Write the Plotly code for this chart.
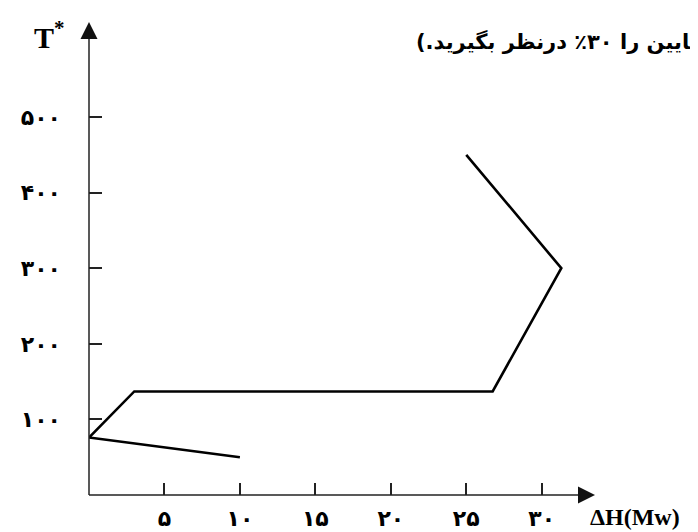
import plotly.graph_objects as go

# ---- data ----
dH_values = [10, 0, 3, 26.75, 31.3, 25]          # ΔH (Mw)
T_values = [50, 76, 137, 137, 300, 450]          # T*

x_tick_vals = [5, 10, 15, 20, 25, 30]
x_tick_text = ["۵", "۱۰", "۱۵", "۲۰", "۲۵", "۳۰"]
y_tick_vals = [100, 200, 300, 400, 500]
y_tick_text = ["۱۰۰", "۲۰۰", "۳۰۰", "۴۰۰", "۵۰۰"]

x_title = "ΔH(Mw)"
y_title = "T<sup>*</sup>"
top_note = "پایین را ۳۰٪ درنظر بگیرید.)\u200f"

# ---- layout geometry ----
W, H = 698, 532
L, R, T, B = 81, 113, 16, 45
X_MAX = 33.4
Y_MAX = 623

def px_x(p):
    return (p - L) / (W - L - R)

def px_y(p):
    return (H - B - p) / (H - T - B)

fig = go.Figure()
fig.add_trace(go.Scatter(
    x=dH_values, y=T_values, mode="lines",
    line=dict(color="black", width=2.6),
    hoverinfo="skip", showlegend=False,
))

axis_font = dict(family="DejaVu Sans", size=22, color="black")

fig.update_layout(
    width=W, height=H,
    margin=dict(l=L, r=R, t=T, b=B, autoexpand=False),
    paper_bgcolor="white", plot_bgcolor="white",
    xaxis=dict(range=[0, X_MAX], showgrid=False, zeroline=False, showline=False,
               tickvals=x_tick_vals, ticktext=["<b>" + t + "</b>" for t in x_tick_text],
               ticks="inside", ticklen=12, tickwidth=1.5, tickcolor="#222",
               tickfont=axis_font, ticklabelstandoff=8),
    yaxis=dict(range=[0, Y_MAX], showgrid=False, zeroline=False, showline=False,
               tickvals=y_tick_vals, ticktext=["<b>" + t + "</b>" for t in y_tick_text],
               ticks="inside", ticklen=13, tickwidth=1.5, tickcolor="#222",
               tickfont=axis_font, ticklabelstandoff=27),
)

# axis lines
axis_line = dict(color="#222", width=1.5)
fig.add_shape(type="line", xref="paper", yref="paper", x0=0, y0=0, x1=1, y1=0, line=axis_line)
fig.add_shape(type="line", xref="paper", yref="paper", x0=0, y0=0, x1=0, y1=1, line=axis_line)
# arrowheads (pixel-sized triangles anchored at axis ends)
fig.add_shape(type="path", xref="paper", yref="paper", xsizemode="pixel", ysizemode="pixel",
              xanchor=1, yanchor=0, path="M 2,0 L -15,-8.5 L -15,8.5 Z",
              fillcolor="#111", line=dict(width=0))
fig.add_shape(type="path", xref="paper", yref="paper", xsizemode="pixel", ysizemode="pixel",
              xanchor=0, yanchor=1, path="M 0,2 L -8.5,-15 L 8.5,-15 Z",
              fillcolor="#111", line=dict(width=0))

# axis titles
fig.add_annotation(x=px_x(580), y=px_y(509), xref="paper", yref="paper",
                   text="<b>" + x_title + "</b>", showarrow=False, xanchor="left",
                   yanchor="middle",
                   font=dict(family="Liberation Serif", size=24, color="black"))
fig.add_annotation(x=px_x(41), y=px_y(27), xref="paper", yref="paper",
                   text="<b>" + y_title + "</b>", showarrow=False, xanchor="center",
                   yanchor="middle",
                   font=dict(family="Liberation Serif", size=30, color="black"))

# partial note at the top
fig.add_annotation(x=px_x(406), y=px_y(33), xref="paper", yref="paper",
                   text="<b>" + top_note + "</b>", showarrow=False, xanchor="left",
                   yanchor="middle",
                   font=dict(family="DejaVu Sans", size=21, color="black"))

fig.write_html("out.html")
